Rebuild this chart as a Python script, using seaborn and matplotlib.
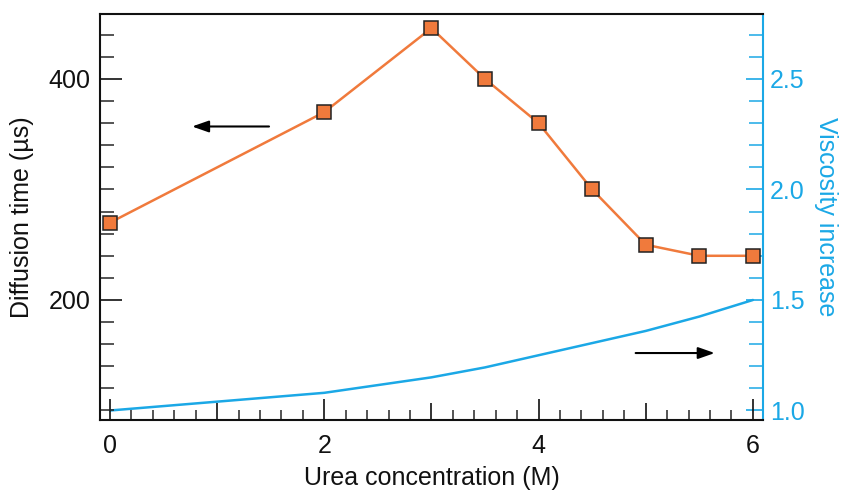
import matplotlib
matplotlib.use("Agg")
import matplotlib.pyplot as plt
import seaborn as sns
import numpy as np
import pandas as pd

# Data
urea_diff = [0, 2, 3, 3.5, 4, 4.5, 5, 5.5, 6]
diff_time = [270, 370, 446, 400, 360, 300, 250, 240, 240]
urea_visc = [0, 2, 3, 3.5, 4, 4.5, 5, 5.5, 6]
viscosity = [1.0, 1.08, 1.15, 1.195, 1.25, 1.305, 1.36, 1.425, 1.5]
x_ticks = [0, 1, 2, 3, 4, 5, 6]
x_ticklabels = ["0", "", "2", "", "4", "", "6"]

ORANGE = "#F07A3C"
BLUE = "#1BA8E6"

sns.set_style("ticks")
plt.rcParams['font.family'] = ['Liberation Sans', 'DejaVu Sans']

fig = plt.figure(figsize=(8.42, 4.91), dpi=100)
ax = fig.add_axes([0.1188, 0.1446, 0.7872, 0.8269])
ax2 = ax.twinx()

df1 = pd.DataFrame({"x": urea_diff, "y": diff_time})
df2 = pd.DataFrame({"x": urea_visc, "y": viscosity})

sns.lineplot(data=df1, x="x", y="y", ax=ax, color=ORANGE, lw=1.8,
             marker="s", markersize=10, markerfacecolor=ORANGE,
             markeredgecolor="#222222", markeredgewidth=1.1, zorder=3)
sns.lineplot(data=df2, x="x", y="y", ax=ax2, color=BLUE, lw=1.8, zorder=2)

ax.set_xlim(-0.093, 6.093)
ax.set_ylim(91.4, 458.8)
ax2.set_ylim(0.957, 2.794)

ax.set_xticks(x_ticks)
ax.set_xticklabels(x_ticklabels)
ax.set_xticks(np.arange(0, 6.01, 0.2), minor=True)
ax.set_yticks([200, 400])
ax.set_yticks(np.arange(100, 441, 20), minor=True)
ax2.set_yticks([1.0, 1.5, 2.0, 2.5])
ax2.set_yticklabels(["1.0", "1.5", "2.0", "2.5"])
ax2.set_yticks(np.arange(1.0, 2.75, 0.1), minor=True)

ax.tick_params(axis="x", which="major", direction="in", length=15, width=1.2,
               labelsize=18, pad=10, top=False, colors="#111111")
ax.tick_params(axis="x", which="minor", direction="in", length=7, width=1.1, top=False)
ax.tick_params(axis="y", which="major", direction="in", length=16, width=1.2,
               labelsize=18, pad=7, colors="#111111")
ax.tick_params(axis="y", which="minor", direction="in", length=10, width=1.1)
for i, t in enumerate(ax.xaxis.get_major_ticks()):
    if i % 2 == 1:
        t.tick1line.set_markersize(12)

ax2.tick_params(axis="y", which="major", direction="in", length=12, width=1.2,
                labelsize=18, pad=5, colors=BLUE)
ax2.tick_params(axis="y", which="minor", direction="in", length=10, width=1.1, colors=BLUE)

for s in ["left", "bottom", "top"]:
    ax.spines[s].set_color("#111111")
    ax.spines[s].set_linewidth(1.5)
    ax.spines[s].set_visible(True)
ax.spines["right"].set_visible(False)
for s in ["left", "bottom", "top"]:
    ax2.spines[s].set_visible(False)
ax2.spines["right"].set_visible(True)
ax2.spines["right"].set_color(BLUE)
ax2.spines["right"].set_linewidth(1.5)

ax.set_xlabel("Urea concentration (M)", fontsize=18, labelpad=6, color="#111111")
ax.set_ylabel("Diffusion time (µs)", fontsize=18, labelpad=10, color="#111111")
ax2.set_ylabel("Viscosity increase", fontsize=18, rotation=270, labelpad=24, color=BLUE)

# Arrows indicating axes
ax.annotate("", xy=(0.74, 357), xytext=(1.51, 357),
            arrowprops=dict(arrowstyle="-|>,head_length=1.0,head_width=0.35", color="black", lw=1.5))
ax.annotate("", xy=(5.67, 152), xytext=(4.88, 152),
            arrowprops=dict(arrowstyle="-|>,head_length=1.0,head_width=0.35", color="black", lw=1.5))

ax.set_zorder(ax2.get_zorder() + 1)
ax.patch.set_visible(False)

fig.savefig("out.png", dpi=100)
